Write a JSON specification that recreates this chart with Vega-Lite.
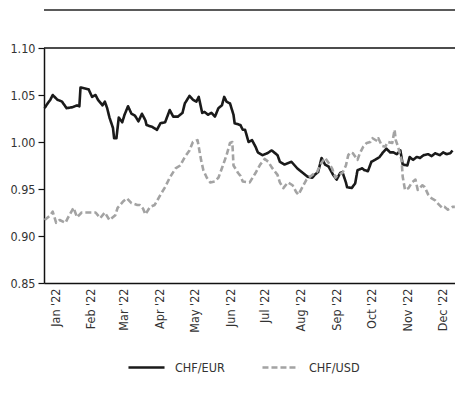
{
  "$schema": "https://vega.github.io/schema/vega-lite/v6.json",
  "width": 411,
  "height": 235,
  "autosize": "none",
  "padding": {"left": 44, "top": 48, "right": 0, "bottom": 121},
  "background": "white",
  "config": {
    "view": {"stroke": null},
    "font": "DejaVu Sans Condensed, DejaVu Sans, sans-serif",
    "axis": {"labelFont": "DejaVu Sans Condensed, DejaVu Sans, sans-serif", "labelFontSize": 12.5, "labelColor": "#333333", "domainColor": "#111111", "domainWidth": 1.5, "grid": false, "title": null},
    "legend": {"labelFont": "DejaVu Sans Condensed, DejaVu Sans, sans-serif", "labelFontSize": 12.5, "labelColor": "#333333"}
  },
  "datasets": {
    "fx": [
      {"date": "2021-12-23", "series": "CHF/EUR", "value": 1.036},
      {"date": "2021-12-25", "series": "CHF/EUR", "value": 1.040},
      {"date": "2021-12-28", "series": "CHF/EUR", "value": 1.045},
      {"date": "2021-12-30", "series": "CHF/EUR", "value": 1.050},
      {"date": "2022-01-03", "series": "CHF/EUR", "value": 1.045},
      {"date": "2022-01-07", "series": "CHF/EUR", "value": 1.043},
      {"date": "2022-01-11", "series": "CHF/EUR", "value": 1.036},
      {"date": "2022-01-16", "series": "CHF/EUR", "value": 1.037},
      {"date": "2022-01-20", "series": "CHF/EUR", "value": 1.039},
      {"date": "2022-01-22", "series": "CHF/EUR", "value": 1.038},
      {"date": "2022-01-23", "series": "CHF/EUR", "value": 1.058},
      {"date": "2022-01-27", "series": "CHF/EUR", "value": 1.057},
      {"date": "2022-01-30", "series": "CHF/EUR", "value": 1.056},
      {"date": "2022-02-02", "series": "CHF/EUR", "value": 1.048},
      {"date": "2022-02-05", "series": "CHF/EUR", "value": 1.050},
      {"date": "2022-02-07", "series": "CHF/EUR", "value": 1.045},
      {"date": "2022-02-11", "series": "CHF/EUR", "value": 1.039},
      {"date": "2022-02-13", "series": "CHF/EUR", "value": 1.043},
      {"date": "2022-02-15", "series": "CHF/EUR", "value": 1.036},
      {"date": "2022-02-17", "series": "CHF/EUR", "value": 1.026},
      {"date": "2022-02-20", "series": "CHF/EUR", "value": 1.015},
      {"date": "2022-02-21", "series": "CHF/EUR", "value": 1.004},
      {"date": "2022-02-23", "series": "CHF/EUR", "value": 1.004},
      {"date": "2022-02-25", "series": "CHF/EUR", "value": 1.026},
      {"date": "2022-02-28", "series": "CHF/EUR", "value": 1.021},
      {"date": "2022-03-02", "series": "CHF/EUR", "value": 1.029},
      {"date": "2022-03-05", "series": "CHF/EUR", "value": 1.038},
      {"date": "2022-03-08", "series": "CHF/EUR", "value": 1.030},
      {"date": "2022-03-11", "series": "CHF/EUR", "value": 1.028},
      {"date": "2022-03-14", "series": "CHF/EUR", "value": 1.022},
      {"date": "2022-03-17", "series": "CHF/EUR", "value": 1.030},
      {"date": "2022-03-20", "series": "CHF/EUR", "value": 1.023},
      {"date": "2022-03-21", "series": "CHF/EUR", "value": 1.018},
      {"date": "2022-03-26", "series": "CHF/EUR", "value": 1.016},
      {"date": "2022-03-30", "series": "CHF/EUR", "value": 1.013},
      {"date": "2022-04-02", "series": "CHF/EUR", "value": 1.020},
      {"date": "2022-04-06", "series": "CHF/EUR", "value": 1.021},
      {"date": "2022-04-10", "series": "CHF/EUR", "value": 1.034},
      {"date": "2022-04-13", "series": "CHF/EUR", "value": 1.027},
      {"date": "2022-04-17", "series": "CHF/EUR", "value": 1.027},
      {"date": "2022-04-21", "series": "CHF/EUR", "value": 1.031},
      {"date": "2022-04-23", "series": "CHF/EUR", "value": 1.041},
      {"date": "2022-04-27", "series": "CHF/EUR", "value": 1.049},
      {"date": "2022-04-30", "series": "CHF/EUR", "value": 1.045},
      {"date": "2022-05-03", "series": "CHF/EUR", "value": 1.043},
      {"date": "2022-05-05", "series": "CHF/EUR", "value": 1.048},
      {"date": "2022-05-08", "series": "CHF/EUR", "value": 1.031},
      {"date": "2022-05-10", "series": "CHF/EUR", "value": 1.032},
      {"date": "2022-05-13", "series": "CHF/EUR", "value": 1.029},
      {"date": "2022-05-16", "series": "CHF/EUR", "value": 1.031},
      {"date": "2022-05-19", "series": "CHF/EUR", "value": 1.027},
      {"date": "2022-05-22", "series": "CHF/EUR", "value": 1.036},
      {"date": "2022-05-25", "series": "CHF/EUR", "value": 1.039},
      {"date": "2022-05-27", "series": "CHF/EUR", "value": 1.048},
      {"date": "2022-05-29", "series": "CHF/EUR", "value": 1.043},
      {"date": "2022-06-01", "series": "CHF/EUR", "value": 1.041},
      {"date": "2022-06-04", "series": "CHF/EUR", "value": 1.029},
      {"date": "2022-06-05", "series": "CHF/EUR", "value": 1.020},
      {"date": "2022-06-10", "series": "CHF/EUR", "value": 1.018},
      {"date": "2022-06-12", "series": "CHF/EUR", "value": 1.013},
      {"date": "2022-06-14", "series": "CHF/EUR", "value": 1.013},
      {"date": "2022-06-17", "series": "CHF/EUR", "value": 1.000},
      {"date": "2022-06-20", "series": "CHF/EUR", "value": 1.002},
      {"date": "2022-06-23", "series": "CHF/EUR", "value": 0.995},
      {"date": "2022-06-25", "series": "CHF/EUR", "value": 0.989},
      {"date": "2022-06-29", "series": "CHF/EUR", "value": 0.986},
      {"date": "2022-07-03", "series": "CHF/EUR", "value": 0.988},
      {"date": "2022-07-07", "series": "CHF/EUR", "value": 0.991},
      {"date": "2022-07-12", "series": "CHF/EUR", "value": 0.986},
      {"date": "2022-07-14", "series": "CHF/EUR", "value": 0.979},
      {"date": "2022-07-18", "series": "CHF/EUR", "value": 0.976},
      {"date": "2022-07-24", "series": "CHF/EUR", "value": 0.979},
      {"date": "2022-07-29", "series": "CHF/EUR", "value": 0.972},
      {"date": "2022-08-02", "series": "CHF/EUR", "value": 0.968},
      {"date": "2022-08-05", "series": "CHF/EUR", "value": 0.965},
      {"date": "2022-08-07", "series": "CHF/EUR", "value": 0.963},
      {"date": "2022-08-11", "series": "CHF/EUR", "value": 0.962},
      {"date": "2022-08-13", "series": "CHF/EUR", "value": 0.965},
      {"date": "2022-08-16", "series": "CHF/EUR", "value": 0.968},
      {"date": "2022-08-19", "series": "CHF/EUR", "value": 0.983},
      {"date": "2022-08-22", "series": "CHF/EUR", "value": 0.976},
      {"date": "2022-08-25", "series": "CHF/EUR", "value": 0.974},
      {"date": "2022-08-29", "series": "CHF/EUR", "value": 0.965},
      {"date": "2022-09-01", "series": "CHF/EUR", "value": 0.960},
      {"date": "2022-09-04", "series": "CHF/EUR", "value": 0.967},
      {"date": "2022-09-06", "series": "CHF/EUR", "value": 0.968},
      {"date": "2022-09-09", "series": "CHF/EUR", "value": 0.957},
      {"date": "2022-09-10", "series": "CHF/EUR", "value": 0.952},
      {"date": "2022-09-14", "series": "CHF/EUR", "value": 0.951},
      {"date": "2022-09-17", "series": "CHF/EUR", "value": 0.956},
      {"date": "2022-09-19", "series": "CHF/EUR", "value": 0.970},
      {"date": "2022-09-23", "series": "CHF/EUR", "value": 0.972},
      {"date": "2022-09-25", "series": "CHF/EUR", "value": 0.970},
      {"date": "2022-09-28", "series": "CHF/EUR", "value": 0.969},
      {"date": "2022-10-01", "series": "CHF/EUR", "value": 0.979},
      {"date": "2022-10-04", "series": "CHF/EUR", "value": 0.981},
      {"date": "2022-10-08", "series": "CHF/EUR", "value": 0.984},
      {"date": "2022-10-11", "series": "CHF/EUR", "value": 0.989},
      {"date": "2022-10-14", "series": "CHF/EUR", "value": 0.993},
      {"date": "2022-10-17", "series": "CHF/EUR", "value": 0.989},
      {"date": "2022-10-20", "series": "CHF/EUR", "value": 0.989},
      {"date": "2022-10-23", "series": "CHF/EUR", "value": 0.987},
      {"date": "2022-10-26", "series": "CHF/EUR", "value": 0.991},
      {"date": "2022-10-28", "series": "CHF/EUR", "value": 0.976},
      {"date": "2022-11-01", "series": "CHF/EUR", "value": 0.975},
      {"date": "2022-11-03", "series": "CHF/EUR", "value": 0.984},
      {"date": "2022-11-06", "series": "CHF/EUR", "value": 0.981},
      {"date": "2022-11-09", "series": "CHF/EUR", "value": 0.984},
      {"date": "2022-11-12", "series": "CHF/EUR", "value": 0.983},
      {"date": "2022-11-15", "series": "CHF/EUR", "value": 0.986},
      {"date": "2022-11-19", "series": "CHF/EUR", "value": 0.987},
      {"date": "2022-11-22", "series": "CHF/EUR", "value": 0.985},
      {"date": "2022-11-25", "series": "CHF/EUR", "value": 0.988},
      {"date": "2022-11-29", "series": "CHF/EUR", "value": 0.986},
      {"date": "2022-12-02", "series": "CHF/EUR", "value": 0.989},
      {"date": "2022-12-05", "series": "CHF/EUR", "value": 0.987},
      {"date": "2022-12-08", "series": "CHF/EUR", "value": 0.988},
      {"date": "2022-12-10", "series": "CHF/EUR", "value": 0.991},
      {"date": "2021-12-23", "series": "CHF/USD", "value": 0.917},
      {"date": "2021-12-28", "series": "CHF/USD", "value": 0.922},
      {"date": "2021-12-30", "series": "CHF/USD", "value": 0.926},
      {"date": "2022-01-02", "series": "CHF/USD", "value": 0.914},
      {"date": "2022-01-05", "series": "CHF/USD", "value": 0.917},
      {"date": "2022-01-10", "series": "CHF/USD", "value": 0.914},
      {"date": "2022-01-12", "series": "CHF/USD", "value": 0.919},
      {"date": "2022-01-17", "series": "CHF/USD", "value": 0.930},
      {"date": "2022-01-20", "series": "CHF/USD", "value": 0.920},
      {"date": "2022-01-24", "series": "CHF/USD", "value": 0.925},
      {"date": "2022-01-29", "series": "CHF/USD", "value": 0.925},
      {"date": "2022-02-05", "series": "CHF/USD", "value": 0.925},
      {"date": "2022-02-09", "series": "CHF/USD", "value": 0.919},
      {"date": "2022-02-13", "series": "CHF/USD", "value": 0.925},
      {"date": "2022-02-17", "series": "CHF/USD", "value": 0.917},
      {"date": "2022-02-22", "series": "CHF/USD", "value": 0.922},
      {"date": "2022-02-24", "series": "CHF/USD", "value": 0.930},
      {"date": "2022-03-01", "series": "CHF/USD", "value": 0.937},
      {"date": "2022-03-04", "series": "CHF/USD", "value": 0.940},
      {"date": "2022-03-08", "series": "CHF/USD", "value": 0.935},
      {"date": "2022-03-13", "series": "CHF/USD", "value": 0.933},
      {"date": "2022-03-15", "series": "CHF/USD", "value": 0.933},
      {"date": "2022-03-18", "series": "CHF/USD", "value": 0.929},
      {"date": "2022-03-20", "series": "CHF/USD", "value": 0.923},
      {"date": "2022-03-24", "series": "CHF/USD", "value": 0.931},
      {"date": "2022-03-28", "series": "CHF/USD", "value": 0.933},
      {"date": "2022-04-02", "series": "CHF/USD", "value": 0.944},
      {"date": "2022-04-06", "series": "CHF/USD", "value": 0.952},
      {"date": "2022-04-10", "series": "CHF/USD", "value": 0.962},
      {"date": "2022-04-15", "series": "CHF/USD", "value": 0.972},
      {"date": "2022-04-19", "series": "CHF/USD", "value": 0.975},
      {"date": "2022-04-23", "series": "CHF/USD", "value": 0.984},
      {"date": "2022-04-27", "series": "CHF/USD", "value": 0.991},
      {"date": "2022-04-30", "series": "CHF/USD", "value": 1.000},
      {"date": "2022-05-04", "series": "CHF/USD", "value": 1.002},
      {"date": "2022-05-05", "series": "CHF/USD", "value": 0.995},
      {"date": "2022-05-07", "series": "CHF/USD", "value": 0.981},
      {"date": "2022-05-09", "series": "CHF/USD", "value": 0.970},
      {"date": "2022-05-12", "series": "CHF/USD", "value": 0.962},
      {"date": "2022-05-15", "series": "CHF/USD", "value": 0.957},
      {"date": "2022-05-19", "series": "CHF/USD", "value": 0.958},
      {"date": "2022-05-22", "series": "CHF/USD", "value": 0.962},
      {"date": "2022-05-25", "series": "CHF/USD", "value": 0.972},
      {"date": "2022-05-29", "series": "CHF/USD", "value": 0.986},
      {"date": "2022-06-01", "series": "CHF/USD", "value": 0.999},
      {"date": "2022-06-03", "series": "CHF/USD", "value": 1.000},
      {"date": "2022-06-04", "series": "CHF/USD", "value": 0.975},
      {"date": "2022-06-08", "series": "CHF/USD", "value": 0.967},
      {"date": "2022-06-10", "series": "CHF/USD", "value": 0.964},
      {"date": "2022-06-12", "series": "CHF/USD", "value": 0.958},
      {"date": "2022-06-18", "series": "CHF/USD", "value": 0.957},
      {"date": "2022-06-23", "series": "CHF/USD", "value": 0.967},
      {"date": "2022-06-27", "series": "CHF/USD", "value": 0.976},
      {"date": "2022-07-01", "series": "CHF/USD", "value": 0.982},
      {"date": "2022-07-04", "series": "CHF/USD", "value": 0.979},
      {"date": "2022-07-07", "series": "CHF/USD", "value": 0.973},
      {"date": "2022-07-12", "series": "CHF/USD", "value": 0.965},
      {"date": "2022-07-14", "series": "CHF/USD", "value": 0.957},
      {"date": "2022-07-17", "series": "CHF/USD", "value": 0.951},
      {"date": "2022-07-21", "series": "CHF/USD", "value": 0.957},
      {"date": "2022-07-25", "series": "CHF/USD", "value": 0.954},
      {"date": "2022-07-28", "series": "CHF/USD", "value": 0.947},
      {"date": "2022-07-30", "series": "CHF/USD", "value": 0.944},
      {"date": "2022-08-02", "series": "CHF/USD", "value": 0.951},
      {"date": "2022-08-06", "series": "CHF/USD", "value": 0.960},
      {"date": "2022-08-11", "series": "CHF/USD", "value": 0.965},
      {"date": "2022-08-15", "series": "CHF/USD", "value": 0.968},
      {"date": "2022-08-19", "series": "CHF/USD", "value": 0.978},
      {"date": "2022-08-22", "series": "CHF/USD", "value": 0.983},
      {"date": "2022-08-25", "series": "CHF/USD", "value": 0.978},
      {"date": "2022-08-28", "series": "CHF/USD", "value": 0.972},
      {"date": "2022-08-31", "series": "CHF/USD", "value": 0.962},
      {"date": "2022-09-02", "series": "CHF/USD", "value": 0.965},
      {"date": "2022-09-06", "series": "CHF/USD", "value": 0.967},
      {"date": "2022-09-09", "series": "CHF/USD", "value": 0.975},
      {"date": "2022-09-11", "series": "CHF/USD", "value": 0.986},
      {"date": "2022-09-13", "series": "CHF/USD", "value": 0.989},
      {"date": "2022-09-15", "series": "CHF/USD", "value": 0.988},
      {"date": "2022-09-19", "series": "CHF/USD", "value": 0.981},
      {"date": "2022-09-21", "series": "CHF/USD", "value": 0.988},
      {"date": "2022-09-24", "series": "CHF/USD", "value": 0.995},
      {"date": "2022-09-27", "series": "CHF/USD", "value": 0.999},
      {"date": "2022-09-30", "series": "CHF/USD", "value": 1.000},
      {"date": "2022-10-02", "series": "CHF/USD", "value": 1.004},
      {"date": "2022-10-06", "series": "CHF/USD", "value": 1.001},
      {"date": "2022-10-07", "series": "CHF/USD", "value": 1.004},
      {"date": "2022-10-10", "series": "CHF/USD", "value": 0.996},
      {"date": "2022-10-13", "series": "CHF/USD", "value": 0.995},
      {"date": "2022-10-15", "series": "CHF/USD", "value": 1.000},
      {"date": "2022-10-19", "series": "CHF/USD", "value": 0.999},
      {"date": "2022-10-21", "series": "CHF/USD", "value": 1.013},
      {"date": "2022-10-22", "series": "CHF/USD", "value": 1.002},
      {"date": "2022-10-24", "series": "CHF/USD", "value": 0.995},
      {"date": "2022-10-27", "series": "CHF/USD", "value": 0.981},
      {"date": "2022-10-28", "series": "CHF/USD", "value": 0.963},
      {"date": "2022-10-30", "series": "CHF/USD", "value": 0.949},
      {"date": "2022-11-02", "series": "CHF/USD", "value": 0.951},
      {"date": "2022-11-05", "series": "CHF/USD", "value": 0.957},
      {"date": "2022-11-08", "series": "CHF/USD", "value": 0.960},
      {"date": "2022-11-10", "series": "CHF/USD", "value": 0.949},
      {"date": "2022-11-14", "series": "CHF/USD", "value": 0.954},
      {"date": "2022-11-16", "series": "CHF/USD", "value": 0.952},
      {"date": "2022-11-19", "series": "CHF/USD", "value": 0.944},
      {"date": "2022-11-22", "series": "CHF/USD", "value": 0.940},
      {"date": "2022-11-25", "series": "CHF/USD", "value": 0.938},
      {"date": "2022-11-27", "series": "CHF/USD", "value": 0.935},
      {"date": "2022-12-01", "series": "CHF/USD", "value": 0.930},
      {"date": "2022-12-03", "series": "CHF/USD", "value": 0.931},
      {"date": "2022-12-06", "series": "CHF/USD", "value": 0.928},
      {"date": "2022-12-10", "series": "CHF/USD", "value": 0.931},
      {"date": "2022-12-12", "series": "CHF/USD", "value": 0.931}
    ]
  },
  "layer": [
    {
      "data": {"values": [{}]},
      "mark": {"type": "rule", "color": "#5a5a5a", "strokeWidth": 2, "clip": false},
      "encoding": {"y": {"datum": 1.1404, "type": "quantitative"}}
    },
    {
      "data": {"values": [{}]},
      "mark": {"type": "rule", "color": "#111111", "strokeWidth": 1.5},
      "encoding": {"y": {"datum": 1.10, "type": "quantitative"}}
    },
    {
      "data": {"name": "fx"},
      "mark": {"type": "line", "strokeWidth": 2.6, "strokeJoin": "round"},
      "encoding": {
        "x": {
          "field": "date", "type": "temporal",
          "scale": {"type": "utc", "domain": [{"year": 2021, "month": 12, "date": 22, "hours": 12, "utc": true}, {"year": 2022, "month": 12, "date": 12, "hours": 3, "utc": true}]},
          "axis": {
            "format": "%b '%y", "labelAngle": -90, "ticks": false, "labelPadding": 5,
            "values": [
              {"year": 2022, "month": 1, "date": 1, "utc": true},
              {"year": 2022, "month": 2, "date": 1, "utc": true},
              {"year": 2022, "month": 3, "date": 1, "utc": true},
              {"year": 2022, "month": 4, "date": 1, "utc": true},
              {"year": 2022, "month": 5, "date": 1, "utc": true},
              {"year": 2022, "month": 6, "date": 1, "utc": true},
              {"year": 2022, "month": 7, "date": 1, "utc": true},
              {"year": 2022, "month": 8, "date": 1, "utc": true},
              {"year": 2022, "month": 9, "date": 1, "utc": true},
              {"year": 2022, "month": 10, "date": 1, "utc": true},
              {"year": 2022, "month": 11, "date": 1, "utc": true},
              {"year": 2022, "month": 12, "date": 1, "utc": true}
            ]
          }
        },
        "y": {
          "field": "value", "type": "quantitative",
          "scale": {"domain": [0.85, 1.10], "nice": false, "zero": false},
          "axis": {"values": [0.85, 0.9, 0.95, 1.0, 1.05, 1.1], "format": ".2f", "tickSize": 6, "tickColor": "#111111", "tickWidth": 1.2, "labelPadding": 3}
        },
        "color": {
          "field": "series", "type": "nominal",
          "scale": {"domain": ["CHF/EUR", "CHF/USD"], "range": ["#1a1a1a", "#a3a3a3"]},
          "legend": {"title": null, "orient": "none", "legendX": 83, "legendY": 300, "direction": "horizontal", "symbolType": "stroke", "symbolSize": 1300, "symbolStrokeWidth": 2.5, "labelOffset": 9, "columnPadding": 32}
        },
        "strokeDash": {
          "field": "series", "type": "nominal",
          "scale": {"domain": ["CHF/EUR", "CHF/USD"], "range": [[1, 0], [6, 3]]},
          "legend": {"title": null, "orient": "none", "legendX": 83, "legendY": 300, "direction": "horizontal", "symbolType": "stroke", "symbolSize": 1300, "symbolStrokeWidth": 2.5, "labelOffset": 9, "columnPadding": 32}
        }
      }
    }
  ]
}
